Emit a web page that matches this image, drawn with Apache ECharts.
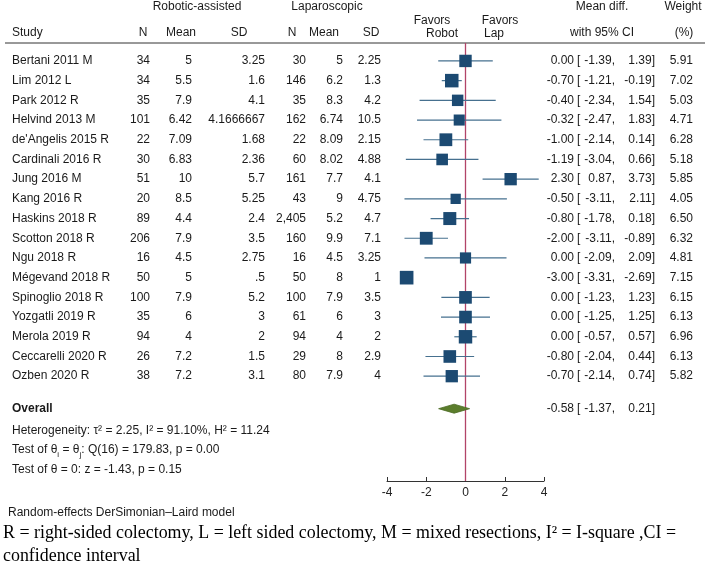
<!DOCTYPE html>
<html>
<head>
<meta charset="utf-8">
<script src="https://cdn.jsdelivr.net/npm/echarts@6/dist/echarts.min.js"></script>
<style>
  html, body { margin: 0; padding: 0; background: #fff; }
  #forest { width: 710px; height: 572px; }
</style>
</head>
<body>
<div id="forest"></div>
<script>
// 研究名称及数据
const studies = ['Bertani 2011 M', 'Lim 2012 L', 'Park 2012 R', 'Helvind 2013 M', "de'Angelis 2015 R", 'Cardinali 2016 R', 'Jung 2016 M', 'Kang 2016 R', 'Haskins 2018 R', 'Scotton 2018 R', 'Ngu 2018 R', 'Mégevand 2018 R', 'Spinoglio 2018 R', 'Yozgatli 2019 R', 'Merola 2019 R', 'Ceccarelli 2020 R', 'Ozben 2020 R'];
const robotN = ['34', '34', '35', '101', '22', '30', '51', '20', '89', '206', '16', '50', '100', '35', '94', '26', '38'];
const robotMean = ['5', '5.5', '7.9', '6.42', '7.09', '6.83', '10', '8.5', '4.4', '7.9', '4.5', '5', '7.9', '6', '4', '7.2', '7.2'];
const robotSD = ['3.25', '1.6', '4.1', '4.1666667', '1.68', '2.36', '5.7', '5.25', '2.4', '3.5', '2.75', '.5', '5.2', '3', '2', '1.5', '3.1'];
const lapN = ['30', '146', '35', '162', '22', '60', '161', '43', '2,405', '160', '16', '50', '100', '61', '94', '29', '80'];
const lapMean = ['5', '6.2', '8.3', '6.74', '8.09', '8.02', '7.7', '9', '5.2', '9.9', '4.5', '8', '7.9', '6', '4', '8', '7.9'];
const lapSD = ['2.25', '1.3', '4.2', '10.5', '2.15', '4.88', '4.1', '4.75', '4.7', '7.1', '3.25', '1', '3.5', '3', '2', '2.9', '4'];
const meanDiff = [0.00, -0.70, -0.40, -0.32, -1.00, -1.19, 2.30, -0.50, -0.80, -2.00, 0.00, -3.00, 0.00, 0.00, 0.00, -0.80, -0.70];
const ciLow = [-1.39, -1.21, -2.34, -2.47, -2.14, -3.04, 0.87, -3.11, -1.78, -3.11, -2.09, -3.31, -1.23, -1.25, -0.57, -2.04, -2.14];
const ciHigh = [1.39, -0.19, 1.54, 1.83, 0.14, 0.66, 3.73, 2.11, 0.18, -0.89, 2.09, -2.69, 1.23, 1.25, 0.57, 0.44, 0.74];
const weight = [5.91, 7.02, 5.03, 4.71, 6.28, 5.18, 5.85, 4.05, 6.50, 6.32, 4.81, 7.15, 6.15, 6.13, 6.96, 6.13, 5.82];
const overallEst = -0.58;
const overallLow = -1.37;
const overallHigh = 0.21;
const xTicks = [-4, -2, 0, 2, 4];
const statLines = [
  'Heterogeneity: τ² = 2.25, I² = 91.10%, H² = 11.24',
  'Test of θ{sub|i} = θ{sub|j}: Q(16) = 179.83, p = 0.00',
  'Test of θ = 0: z = -1.43, p = 0.15'
];

// 布局
const rowOverall = 17.65;
const statRows = [18.75, 19.75, 20.75];
const yMin = -0.91;
const yMax = 21.32;
const sans = '"Liberation Sans", Arial, Helvetica, sans-serif';
const serif = '"Liberation Serif", "Times New Roman", serif';
const ink = '#1a1a1a';
// 列位置 (右对齐)
const col = { study: 12, rN: 150, rMean: 192, rSD: 265, lN: 306, lMean: 343, lSD: 381, est: 574, bra: 577, lo: 615, hi: 655, w: 693 };

const fmt = v => v.toFixed(2);
const cells = [];
studies.forEach((s, i) => {
  cells.push([col.study, i, s, 'left']);
  cells.push([col.rN, i, robotN[i], 'right']);
  cells.push([col.rMean, i, robotMean[i], 'right']);
  cells.push([col.rSD, i, robotSD[i], 'right']);
  cells.push([col.lN, i, lapN[i], 'right']);
  cells.push([col.lMean, i, lapMean[i], 'right']);
  cells.push([col.lSD, i, lapSD[i], 'right']);
  cells.push([col.est, i, fmt(meanDiff[i]), 'right']);
  cells.push([col.bra, i, '[', 'left']);
  cells.push([col.lo, i, fmt(ciLow[i]) + ',', 'right']);
  cells.push([col.hi, i, fmt(ciHigh[i]) + ']', 'right']);
  cells.push([col.w, i, fmt(weight[i]), 'right']);
});
cells.push([col.study, rowOverall, '{b|Overall}', 'left']);
cells.push([col.est, rowOverall, fmt(overallEst), 'right']);
cells.push([col.bra, rowOverall, '[', 'left']);
cells.push([col.lo, rowOverall, fmt(overallLow) + ',', 'right']);
cells.push([col.hi, rowOverall, fmt(overallHigh) + ']', 'right']);
statLines.forEach((t, k) => cells.push([col.study, statRows[k], t, 'left']));

const chartEle = document.getElementById('forest');
const myChart = echarts.init(chartEle);

function headText(x, y, text, align, extra) {
  return {
    type: 'text', x: x, y: y, silent: true,
    style: Object.assign({ text: text, font: '12px ' + sans, fill: ink, align: align || 'center', verticalAlign: 'middle' }, extra || {})
  };
}

const option = {
  animation: false,
  backgroundColor: '#fff',
  grid: [
    { left: 387, right: 166, top: 43, bottom: 91 },
    { left: 0, right: 0, top: 43, bottom: 91 }
  ],
  xAxis: [
    {
      gridIndex: 0, type: 'value', min: -4, max: 4, interval: 2,
      axisLine: { show: true, onZero: false, lineStyle: { color: '#333', width: 1 } },
      axisTick: { show: true, inside: true, length: 4, lineStyle: { color: '#333' } },
      axisLabel: { fontSize: 12, color: '#222', fontFamily: sans, margin: 6, formatter: v => (xTicks.indexOf(v) >= 0 ? String(v) : '') },
      splitLine: { show: false }
    },
    { gridIndex: 1, type: 'value', min: 0, max: 710, show: false }
  ],
  yAxis: [
    { gridIndex: 0, type: 'value', inverse: true, min: yMin, max: yMax, show: false },
    { gridIndex: 1, type: 'value', inverse: true, min: yMin, max: yMax, show: false }
  ],
  series: [
    {
      // 无效线
      type: 'line', xAxisIndex: 0, yAxisIndex: 0, z: 1,
      symbol: 'none', silent: true,
      lineStyle: { color: '#b24468', width: 1.3 },
      data: [[0, yMin], [0, yMax]]
    },
    {
      // 置信区间
      type: 'custom', xAxisIndex: 0, yAxisIndex: 0, z: 2,
      data: studies.map((s, i) => [ciLow[i], ciHigh[i], i]),
      renderItem: (params, api) => {
        const a = api.coord([api.value(0), api.value(2)]);
        const b = api.coord([api.value(1), api.value(2)]);
        return { type: 'line', shape: { x1: a[0], y1: a[1], x2: b[0], y2: b[1] }, style: { stroke: '#46708f', lineWidth: 1.2 } };
      }
    },
    {
      type: 'scatter', xAxisIndex: 0, yAxisIndex: 0, z: 3,
      symbol: 'rect',
      symbolSize: v => 5.1 * Math.sqrt(v[2]),
      itemStyle: { color: '#1c4a72', opacity: 1 },
      data: studies.map((s, i) => [meanDiff[i], i, weight[i]])
    },
    {
      // 合并效应菱形
      type: 'custom', xAxisIndex: 0, yAxisIndex: 0, z: 4,
      data: [[overallLow, overallEst, overallHigh, rowOverall]],
      renderItem: (params, api) => {
        const l = api.coord([api.value(0), api.value(3)]);
        const m = api.coord([api.value(1), api.value(3)]);
        const r = api.coord([api.value(2), api.value(3)]);
        return {
          type: 'polygon',
          shape: { points: [[l[0], l[1]], [m[0], m[1] - 4.5], [r[0], r[1]], [m[0], m[1] + 4.5]] },
          style: { fill: '#5b7d2c', stroke: '#4a6a22', lineWidth: 0.8 }
        };
      }
    },
    {
      // 表格文字
      type: 'custom', xAxisIndex: 1, yAxisIndex: 1, z: 5, silent: true,
      data: cells.map(c => [c[0], c[1]]),
      renderItem: (params, api) => {
        const c = cells[params.dataIndex];
        const p = api.coord([c[0], c[1]]);
        return {
          type: 'text', x: p[0], y: p[1],
          style: {
            text: c[2], font: '12px ' + sans, fill: ink, align: c[3], verticalAlign: 'middle',
            rich: {
              b: { fontWeight: 'bold', fontSize: 12, fontFamily: sans, fill: ink },
              sub: { fontSize: 8, fontFamily: sans, fill: ink, verticalAlign: 'bottom', lineHeight: 18 }
            }
          }
        };
      }
    }
  ],
  graphic: [
    headText(197, 7, 'Robotic-assisted'),
    headText(327, 7, 'Laparoscopic'),
    headText(602, 7, 'Mean diff.'),
    headText(683, 7, 'Weight'),
    headText(12, 33, 'Study', 'left'),
    headText(143, 33, 'N'),
    headText(181, 33, 'Mean'),
    headText(239, 33, 'SD'),
    headText(292, 33, 'N'),
    headText(324, 33, 'Mean'),
    headText(371, 33, 'SD'),
    headText(432, 21, 'Favors'),
    headText(442, 34, 'Robot'),
    headText(500, 21, 'Favors'),
    headText(494, 34, 'Lap'),
    headText(602, 33, 'with 95% CI'),
    headText(684, 33, '(%)'),
    { type: 'line', silent: true, shape: { x1: 5, y1: 43, x2: 705, y2: 43 }, style: { stroke: '#333', lineWidth: 1 } },
    headText(8, 513, 'Random-effects DerSimonian–Laird model', 'left'),
    headText(3, 533, 'R = right-sided colectomy, L = left sided colectomy, M = mixed resections, I² = I-square ,CI =', 'left', { font: '17.9px ' + serif, fill: '#000' }),
    headText(3, 556, 'confidence interval', 'left', { font: '17.9px ' + serif, fill: '#000' })
  ]
};
myChart.setOption(option);
</script>
</body>
</html>
